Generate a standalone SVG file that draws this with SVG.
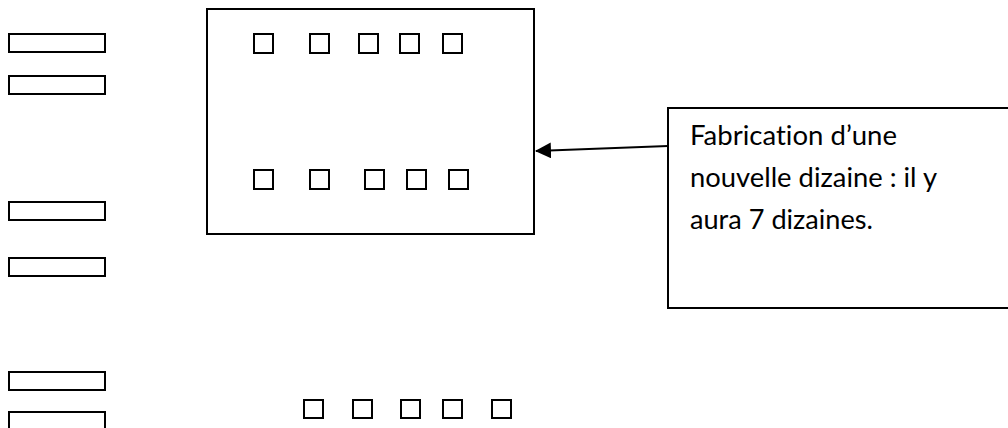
<svg xmlns="http://www.w3.org/2000/svg" width="1008" height="428" viewBox="0 0 1008 428">
  <style>
    .box { fill: #ffffff; stroke: #000000; stroke-width: 2; }
    .sq { fill: #ffffff; stroke: #000000; stroke-width: 2; }
    .bar { fill: #ffffff; stroke: #000000; stroke-width: 2; }
    .lbl { font-family: "Lato", "Liberation Sans", sans-serif; font-size: 27px; fill: #000000; font-variant-ligatures: none; font-feature-settings: "liga" 0, "clig" 0; }
    .conn { stroke: #000000; stroke-width: 2; fill: none; }
  </style>
  <defs>
    <marker id="arrow" markerWidth="8" markerHeight="8" refX="7.5" refY="4" orient="auto" markerUnits="strokeWidth">
      <path d="M0,0 L8,4 L0,8 Z" fill="#000000"/>
    </marker>
  </defs>
  <rect width="1008" height="428" fill="#ffffff"/>

  <g id="bars-left">
    <rect class="bar" x="9" y="34" width="96" height="18"/>
    <rect class="bar" x="9" y="76" width="96" height="18"/>
    <rect class="bar" x="9" y="202" width="96" height="18"/>
    <rect class="bar" x="9" y="258" width="96" height="18"/>
    <rect class="bar" x="9" y="372" width="96" height="18"/>
    <rect class="bar" x="9" y="412" width="96" height="18"/>
  </g>

  <g id="main-box">
    <rect class="box" x="207" y="9" width="327" height="225"/>
    <rect class="sq" x="254" y="34" width="19" height="19"/>
    <rect class="sq" x="310" y="34" width="19" height="19"/>
    <rect class="sq" x="359" y="34" width="19" height="19"/>
    <rect class="sq" x="400" y="34" width="19" height="19"/>
    <rect class="sq" x="443" y="34" width="19" height="19"/>
    <rect class="sq" x="254" y="170" width="19" height="19"/>
    <rect class="sq" x="310" y="170" width="19" height="19"/>
    <rect class="sq" x="365" y="170" width="19" height="19"/>
    <rect class="sq" x="407" y="170" width="19" height="19"/>
    <rect class="sq" x="449" y="170" width="19" height="19"/>
  </g>

  <g id="loose-squares">
    <rect class="sq" x="304" y="400" width="19" height="18"/>
    <rect class="sq" x="353" y="400" width="19" height="18"/>
    <rect class="sq" x="401" y="400" width="19" height="18"/>
    <rect class="sq" x="443" y="400" width="19" height="18"/>
    <rect class="sq" x="492" y="400" width="19" height="18"/>
  </g>

  <g id="callout">
    <rect class="box" x="668" y="108" width="360" height="200"/>
    <text class="lbl" x="690" y="145" textLength="207" lengthAdjust="spacingAndGlyphs">Fabrication d’une</text>
    <text class="lbl" x="690" y="187" textLength="247" lengthAdjust="spacingAndGlyphs">nouvelle dizaine : il y</text>
    <text class="lbl" x="690" y="229" textLength="183" lengthAdjust="spacingAndGlyphs">aura 7 dizaines.</text>
  </g>

  <g id="connectors">
    <line class="conn" x1="668" y1="146" x2="536" y2="151" marker-end="url(#arrow)"/>
  </g>
</svg>
